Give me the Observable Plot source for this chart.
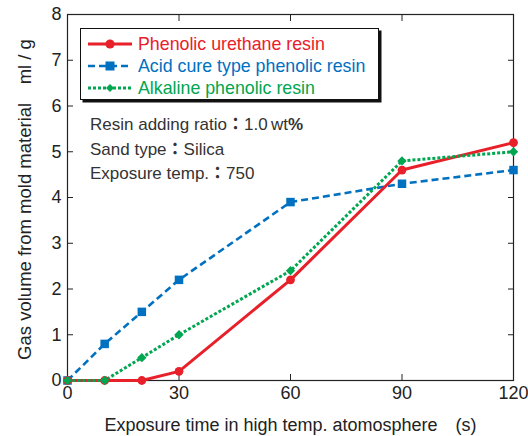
<!DOCTYPE html>
<html>
<head>
<meta charset="utf-8">
<script src="https://cdn.jsdelivr.net/npm/d3@7"></script>
<script src="https://cdn.jsdelivr.net/npm/@observablehq/plot@0.6"></script>
<style>
  body { margin: 0; background: #fff; font-family: "Liberation Sans", Arial, sans-serif; }
  #wrap { position: relative; width: 528px; height: 436px; }
  #legend { position: absolute; left: 80px; top: 28px; width: 297px; height: 70px; border: 1.5px solid #111; box-shadow: 2.5px 2.5px 0 #111; background: #fff; }
  .lrow { position: absolute; left: 6px; height: 22px; display: flex; align-items: center; font-size: 17.8px; white-space: nowrap; }
  .lrow svg { margin-right: 5px; }
  #note { position: absolute; left: 90px; top: 112px; font-size: 17px; color: #333; line-height: 22.5px; white-space: nowrap; }
  .colon { font-family: "Noto Sans CJK JP", sans-serif; font-weight: bold; }
</style>
</head>
<body>
<div id="wrap"></div>
<script>
const times = [0, 10, 20, 30, 60, 90, 120];
const urethane = [0, 0, 0, 0.2, 2.2, 4.6, 5.2];
const acidCure = [0, 0.8, 1.5, 2.2, 3.9, 4.3, 4.6];
const alkaline = [0, 0, 0.5, 1.0, 2.4, 4.8, 5.0];
const seriesNames = ["Phenolic urethane resin", "Acid cure type phenolic resin", "Alkaline phenolic resin"];
const xTicks = [0, 30, 60, 90, 120];
const yTicks = [0, 1, 2, 3, 4, 5, 6, 7, 8];
const noteLines = [
  "Resin adding ratio<span class='colon'>：</span>1.0&thinsp;wt<b>%</b>",
  "Sand type<span class='colon'>：</span>Silica",
  "Exposure temp.<span class='colon'>：</span>750"
];

const colors = ["#e8202a", "#0070c0", "#00a650"];
const styles = [
  {width: 3, dash: null, symbol: "circle", r: 4.4},
  {width: 2.6, dash: "7 4", symbol: "square", r: 4.8},
  {width: 3, dash: "3 2", symbol: "diamond2", r: 4.2}
];
const seriesVals = [urethane, acidCure, alkaline];
const data = seriesVals.map((vals, i) => times.map((t, j) => ({t, v: vals[j], s: seriesNames[i]})));

const font = "Liberation Sans, Arial, sans-serif";
const marks = [];
[1, 0, 2].forEach(i => {
  marks.push(Plot.line(data[i], {x: "t", y: "v", stroke: colors[i], strokeWidth: styles[i].width, strokeDasharray: styles[i].dash, strokeLinecap: "butt", strokeLinejoin: "miter"}));
});
[1, 0, 2].forEach(i => {
  marks.push(Plot.dot(data[i], {x: "t", y: "v", fill: colors[i], stroke: "none", symbol: styles[i].symbol, r: styles[i].r}));
});

const chart = Plot.plot({
  width: 528,
  height: 436,
  marginLeft: 67,
  marginRight: 15,
  marginTop: 14,
  marginBottom: 56,
  style: {fontFamily: font, background: "#fff", overflow: "visible"},
  x: {domain: [0, 120]},
  y: {domain: [0, 8]},
  marks: [
    Plot.frame({stroke: "#222", strokeWidth: 1.2}),
    Plot.axisX({ticks: xTicks, tickSize: -6, tickPadding: 12, fontSize: 18, fill: "#222", stroke: "#222", label: "Exposure time in high temp. atomosphere\u2003(s)", labelAnchor: "center", labelArrow: "none", labelOffset: 50}),
    Plot.axisX({ticks: xTicks, anchor: "top", tickSize: -6, tickFormat: () => "", label: null, stroke: "#222"}),
    Plot.axisY({ticks: yTicks, tickSize: -6, tickPadding: 12, fontSize: 18, fill: "#222", stroke: "#222", label: "Gas volume from mold material\u2003ml / g", labelAnchor: "center", labelArrow: "none", labelOffset: 50}),
    Plot.axisY({ticks: yTicks, anchor: "right", tickSize: -6, tickFormat: () => "", label: null, stroke: "#222"}),
    ...marks
  ]
});
chart.querySelectorAll("[aria-label='x-axis label'] text, [aria-label='y-axis label'] text").forEach(t => { t.setAttribute("font-size", "18"); t.style.fontSize = "18px"; t.setAttribute("fill", "#222"); });
chart.querySelectorAll("[aria-label='y-axis label'] text").forEach(t => { t.setAttribute("font-size", "18.5"); t.style.fontSize = "18.5px"; t.setAttribute("dx", "-2"); });
const wrap = document.getElementById("wrap");
wrap.appendChild(chart);

const legend = document.createElement("div");
legend.id = "legend";
seriesNames.forEach((name, i) => {
  const row = document.createElement("div");
  row.className = "lrow";
  row.style.top = (4 + i * 22) + "px";
  const st = styles[i];
  let sym;
  if (st.symbol === "circle") sym = `<circle cx="23" cy="11" r="4.6" fill="${colors[i]}"/>`;
  else if (st.symbol === "square") sym = `<rect x="18.5" y="6.5" width="9" height="9" fill="${colors[i]}"/>`;
  else sym = `<path d="M23 7 L27 11 L23 15 L19 11Z" fill="${colors[i]}"/>`;
  row.innerHTML = `<svg width="46" height="22"><line x1="1" x2="45" y1="11" y2="11" stroke="${colors[i]}" stroke-width="${st.width}" ${st.dash ? `stroke-dasharray="${st.dash}"` : ""}/>${sym}</svg><span style="color:${colors[i]}">${name}</span>`;
  legend.appendChild(row);
});
wrap.appendChild(legend);

const note = document.createElement("div");
note.id = "note";
note.innerHTML = noteLines.join("<br>");
wrap.appendChild(note);
</script>
</body>
</html>
